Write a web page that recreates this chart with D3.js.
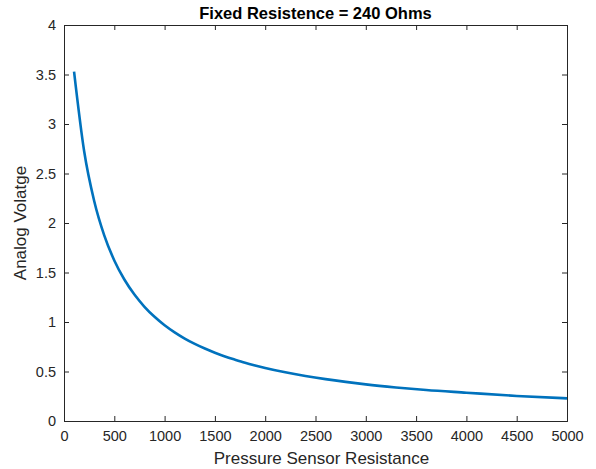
<!DOCTYPE html>
<html>
<head>
<meta charset="utf-8">
<script src="https://cdn.jsdelivr.net/npm/d3@7"></script>
<style>
  body { margin: 0; background: #fff; }
  svg text { font-family: "Liberation Sans", Arial, Helvetica, sans-serif; fill: #262626; }
</style>
</head>
<body>
<svg id="chart"></svg>
<script>
// --- Data ---
const resistance = [100, 200, 300, 400, 500, 600, 700, 800, 900, 1000,
    1100, 1200, 1300, 1400, 1500, 1600, 1700, 1800, 1900, 2000,
    2200, 2400, 2600, 2800, 3000, 3300, 3600, 4000, 4500, 5000];
const voltage = [3.529, 2.727, 2.222, 1.875, 1.622, 1.429, 1.277, 1.154, 1.053, 0.968,
    0.896, 0.833, 0.779, 0.732, 0.690, 0.652, 0.619, 0.588, 0.561, 0.536,
    0.492, 0.455, 0.423, 0.395, 0.370, 0.339, 0.313, 0.286, 0.253, 0.229];
const xTicks = [0, 500, 1000, 1500, 2000, 2500, 3000, 3500, 4000, 4500, 5000];
const yTicks = [0, 0.5, 1, 1.5, 2, 2.5, 3, 3.5, 4];

const titleText = "Fixed Resistence = 240 Ohms";
const xLabel = "Pressure Sensor Resistance";
const yLabel = "Analog Volatge";

// --- Setup ---
const width = 596, height = 469;
const margin = { top: 25, right: 29, bottom: 48, left: 64 };
const innerW = width - margin.left - margin.right;
const innerH = height - margin.top - margin.bottom;

const svg = d3.select("#chart").attr("width", width).attr("height", height);
const g = svg.append("g").attr("transform", `translate(${margin.left},${margin.top})`);

const x = d3.scaleLinear().domain([0, 5000]).range([0, innerW]);
const y = d3.scaleLinear().domain([0, 4]).range([innerH, 0]);

const axisColor = "#262626";

// bottom / left axes with inward ticks
const xAxis = g.append("g").attr("transform", `translate(0,${innerH})`)
    .call(d3.axisBottom(x).tickValues(xTicks).tickSize(-5).tickPadding(10).tickFormat(d3.format("d")));
const yAxis = g.append("g")
    .call(d3.axisLeft(y).tickValues(yTicks).tickSize(-5).tickPadding(8).tickFormat(d => d));
// top / right axes (ticks only)
const xTop = g.append("g")
    .call(d3.axisTop(x).tickValues(xTicks).tickSize(-5).tickFormat(""));
const yRight = g.append("g").attr("transform", `translate(${innerW},0)`)
    .call(d3.axisRight(y).tickValues(yTicks).tickSize(-5).tickFormat(""));

[xAxis, yAxis, xTop, yRight].forEach(a => {
    a.select(".domain").attr("stroke", axisColor).attr("stroke-width", 1);
    a.selectAll(".tick line").attr("stroke", axisColor);
    a.selectAll(".tick text").attr("font-size", 14.5).attr("fill", axisColor);
});

// --- Line ---
const pts = resistance.map((r, i) => [r, voltage[i]]);
const line = d3.line().x(d => x(d[0])).y(d => y(d[1])).curve(d3.curveMonotoneX);
g.append("path")
    .datum(pts)
    .attr("fill", "none")
    .attr("stroke", "#0072BD")
    .attr("stroke-width", 2.6)
    .attr("stroke-linejoin", "round")
    .attr("d", line);

// --- Labels ---
svg.append("text")
    .attr("x", margin.left + innerW / 2).attr("y", 19)
    .attr("text-anchor", "middle")
    .attr("font-size", 16.5).attr("font-weight", "bold")
    .style("fill", "#000")
    .text(titleText);

svg.append("text")
    .attr("x", margin.left + innerW / 2 + 6).attr("y", 464)
    .attr("text-anchor", "middle")
    .attr("font-size", 17)
    .text(xLabel);

svg.append("text")
    .attr("transform", `translate(26,${margin.top + innerH / 2}) rotate(-90)`)
    .attr("text-anchor", "middle")
    .attr("font-size", 17)
    .text(yLabel);
</script>
</body>
</html>
